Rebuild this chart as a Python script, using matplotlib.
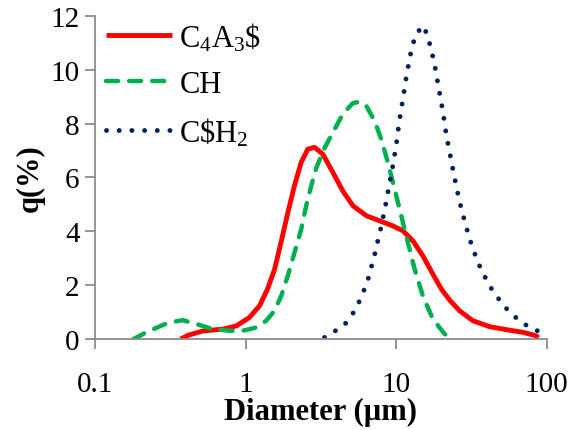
import numpy as np
import matplotlib.pyplot as plt

plt.rcParams['font.family'] = ['Liberation Serif', 'DejaVu Serif']
plt.rcParams['mathtext.fontset'] = 'custom'
plt.rcParams['mathtext.rm'] = 'Liberation Serif'
plt.rcParams['mathtext.it'] = 'Liberation Serif:italic'

# C4A3$
c4a3_x = [0.37, 0.42, 0.52, 0.71, 0.87, 1.06, 1.24, 1.40, 1.56, 1.72, 1.91, 2.11, 2.34,
          2.59, 2.87, 3.26, 3.80, 4.42, 5.16, 6.33, 7.76, 9.51, 11.08, 12.91, 15.05,
          17.53, 20.0, 22.63, 26.38, 32.33, 41.75, 53.91, 69.49, 85.3, 88.0]
c4a3_y = [0.0, 0.15, 0.30, 0.37, 0.49, 0.80, 1.24, 1.86, 2.60, 3.59, 4.70, 5.69, 6.56,
          7.05, 7.12, 6.86, 6.19, 5.50, 4.95, 4.58, 4.39, 4.20, 4.02, 3.65, 3.09,
          2.41, 1.85, 1.45, 1.05, 0.68, 0.46, 0.35, 0.25, 0.12, 0.05]

# CH
ch_x = [0.18, 0.219, 0.282, 0.312, 0.383, 0.470, 0.605, 0.782, 0.958, 1.176, 1.371,
        1.556, 1.724, 1.907, 2.113, 2.342, 2.527, 2.729, 2.945, 3.35, 3.80, 4.42,
        5.16, 5.71, 6.33, 7.19, 7.96, 8.81, 9.76, 10.81, 11.96, 13.26, 15.05, 17.53,
        20.97, 21.5]
ch_y = [0.0, 0.25, 0.52, 0.62, 0.70, 0.56, 0.37, 0.31, 0.31, 0.43, 0.68,
        1.05, 1.60, 2.35, 3.21, 4.08, 4.95, 5.69, 6.35, 7.10, 7.67, 8.35,
        8.76, 8.81, 8.66, 8.10, 7.42, 6.56, 5.57, 4.58, 3.59, 2.60, 1.60, 0.74,
        0.19, 0.15]

# C$H2
csh2_x = [3.345, 3.957, 4.611, 5.16, 5.65, 6.07, 6.49, 6.83, 7.19, 7.49, 7.84, 8.16,
          8.47, 8.77, 9.08, 9.42, 9.71, 10.02, 10.26, 10.53, 10.86, 11.20, 11.5, 12.3,
          12.8, 13.6, 15.2, 16.3, 17.9, 19.22, 20.43, 21.62, 22.40, 23.24, 24.07, 25.08,
          25.98, 27.20, 28.61, 30.13, 31.84, 34.06, 36.54, 39.87, 43.90, 49.16, 55.59,
          64.07, 74.67, 88.77]
csh2_y = [0.06, 0.31, 0.58, 0.95, 1.36, 1.77, 2.20, 2.66, 3.12, 3.56, 4.02, 4.48,
          4.92, 5.38, 5.83, 6.30, 6.76, 7.21, 7.67, 8.14, 8.60, 9.05, 9.52, 10.43,
          10.88, 11.34, 11.63, 11.19, 10.27, 9.28, 8.45, 7.52, 7.08, 6.62, 6.16, 5.69,
          5.26, 4.80, 4.34, 3.90, 3.45, 3.02, 2.60, 2.19, 1.78, 1.41, 1.05,
          0.74, 0.48, 0.28]

labels = [r'C$_{\mathrm{4}}$A$_{\mathrm{3}}$\$', 'CH', r'C\$H$_{\mathrm{2}}$']
x_ticks = [0.1, 1, 10, 100]
x_ticklabels = ['0.1', '1', '10', '100']
y_ticks = [0, 2, 4, 6, 8, 10, 12]

fig = plt.figure(figsize=(5.74, 4.31), dpi=100)
ax = fig.add_axes([0.1655, 0.211, 0.787, 0.75])

ax.plot(c4a3_x, c4a3_y, color='#FF0000', lw=3.5, solid_capstyle='butt',
        solid_joinstyle='round', label=labels[0])
ax.plot(ch_x, ch_y, color='#00B050', lw=3.2, linestyle=(0, (2.7, 2.5)),
        dash_capstyle='round', label=labels[1])
ax.plot(csh2_x, csh2_y, color='#002060', lw=3.5, linestyle=(0, (0.01, 2.6)),
        dash_capstyle='round', label=labels[2])

ax.set_xscale('log')
ax.set_xlim(0.1, 100)
ax.set_ylim(0, 12)
ax.set_xticks(x_ticks)
ax.set_xticklabels(x_ticklabels)
ax.xaxis.set_minor_locator(plt.NullLocator())
ax.set_yticks(y_ticks)

for s in ['top', 'right']:
    ax.spines[s].set_visible(False)
for s in ['left', 'bottom']:
    ax.spines[s].set_color('#8c8c8c')
    ax.spines[s].set_linewidth(1.3)
ax.tick_params(axis='both', colors='#8c8c8c', labelcolor='black', labelsize=21,
               length=7, width=1.3, direction='out')
ax.tick_params(axis='x', pad=16)
ax.tick_params(axis='y', pad=4)

ax.set_xlabel('Diameter (µm)', fontsize=22, fontweight='bold', labelpad=0)
ax.set_ylabel('q(%)', fontsize=22, fontweight='bold', labelpad=4)

ax.legend(loc='upper left', bbox_to_anchor=(-0.016, 1.042), frameon=False, fontsize=22,
          handlelength=2.15, handletextpad=0.25, labelspacing=0.55, borderaxespad=0.2)

fig.savefig('out.png', dpi=100)
